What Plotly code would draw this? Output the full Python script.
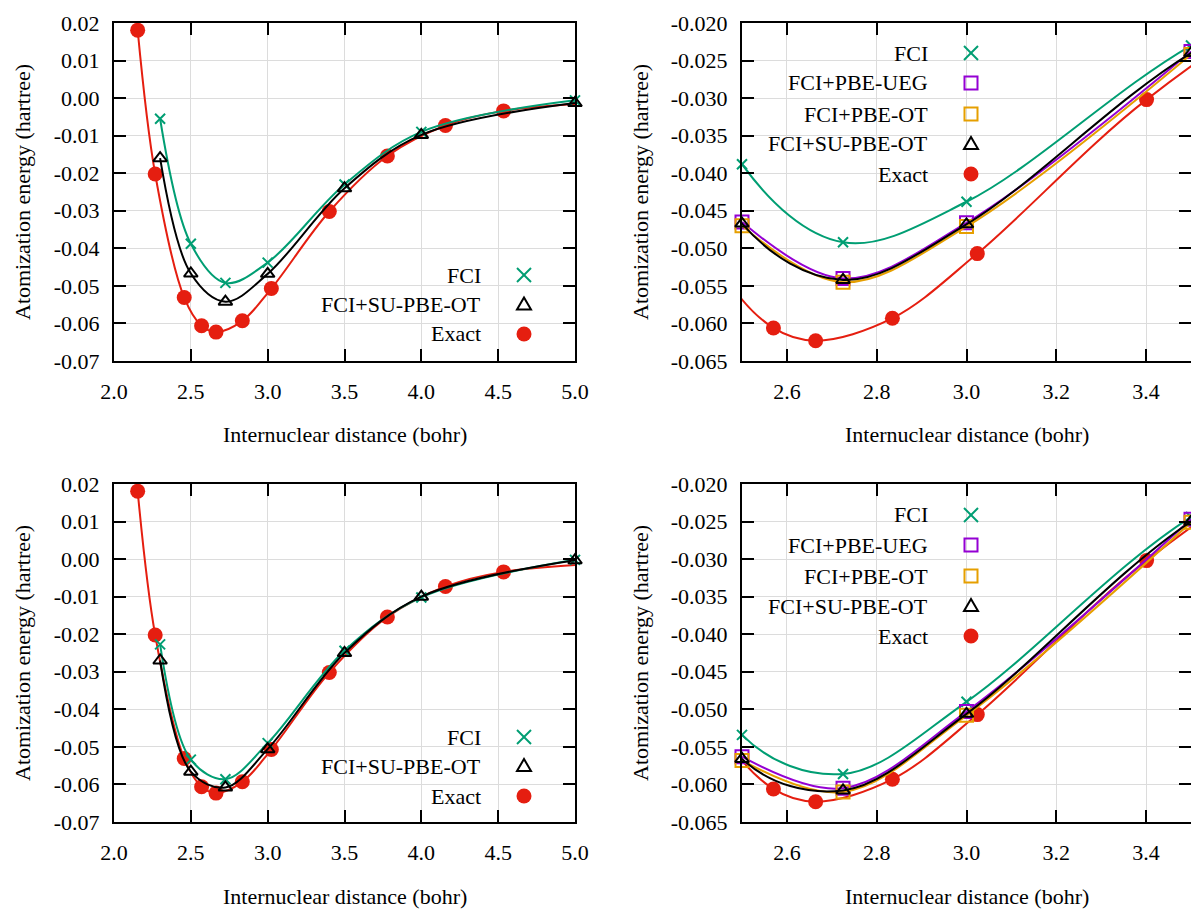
import plotly.graph_objects as go

# ---------------- data ----------------
exact_x = [2.154, 2.268, 2.457, 2.570, 2.664, 2.835, 3.024, 3.401, 3.779, 4.157, 4.535, 5.291]
exact_y = [0.0181, -0.0202, -0.0531, -0.0606, -0.0623, -0.0593, -0.0507, -0.0302, -0.0154, -0.0073, -0.0034, -0.0009]

calc_x = [2.3, 2.5, 2.725, 3.0, 3.5, 4.0, 5.0]
fci_top = [-0.0055, -0.0388, -0.0492, -0.0438, -0.0230, -0.0090, -0.0006]
su_top = [-0.0160, -0.0467, -0.0542, -0.0468, -0.0240, -0.0098, -0.0013]
fci_bot = [-0.0227, -0.0534, -0.0586, -0.0490, -0.0244, -0.0102, -0.0002]
su_bot = [-0.0270, -0.0566, -0.0608, -0.0506, -0.0250, -0.0100, -0.0003]

pbe_x = [2.5, 2.725, 3.0, 3.5]
ueg_top = [-0.0465, -0.0540, -0.0466, -0.0238]
ot_top = [-0.0470, -0.0545, -0.0471, -0.0242]
ueg_bot = [-0.0563, -0.0605, -0.0503, -0.0247]
ot_bot = [-0.0568, -0.0610, -0.0508, -0.0251]

left_xticks = [2.0, 2.5, 3.0, 3.5, 4.0, 4.5, 5.0]
left_xlabels = ["2.0", "2.5", "3.0", "3.5", "4.0", "4.5", "5.0"]
left_yticks = [0.02, 0.01, 0.0, -0.01, -0.02, -0.03, -0.04, -0.05, -0.06, -0.07]
left_ylabels = ["0.02", "0.01", "0.00", "-0.01", "-0.02", "-0.03", "-0.04", "-0.05", "-0.06", "-0.07"]
right_xticks = [2.6, 2.8, 3.0, 3.2, 3.4]
right_xlabels = ["2.6", "2.8", "3.0", "3.2", "3.4"]
right_yticks = [-0.020, -0.025, -0.030, -0.035, -0.040, -0.045, -0.050, -0.055, -0.060, -0.065]
right_ylabels = ["-0.020", "-0.025", "-0.030", "-0.035", "-0.040", "-0.045", "-0.050", "-0.055", "-0.060", "-0.065"]

names = {"fci": "FCI", "ueg": "FCI+PBE-UEG", "ot": "FCI+PBE-OT", "su": "FCI+SU-PBE-OT", "exact": "Exact"}
colors = {"fci": "#009e73", "ueg": "#9400d3", "ot": "#e69f00", "su": "#000000", "exact": "#e51e10"}

# page has an 8px body margin: figure is drawn at (8, 8) and runs to the window edge
OFF = 8
W, H = 1199 - OFF, 909 - OFF
FONT = "Liberation Serif"

# panel pixel boxes in page coordinates (x0, x1, y0, y1)
panels = {
    1: (114, 575, 23, 361),
    2: (742, 1191, 23, 361),
    3: (114, 575, 484, 822),
    4: (742, 1191, 484, 822),
}
xranges = {1: [2.0, 5.0], 2: [2.5, 3.5], 3: [2.0, 5.0], 4: [2.5, 3.5]}
yranges = {1: [-0.07, 0.02], 2: [-0.065, -0.020], 3: [-0.07, 0.02], 4: [-0.065, -0.020]}


def px(x):
    return (x - OFF) / W


def py(y):
    return 1 - (y - OFF) / H


fig = go.Figure()

marker_style = {
    "fci": dict(symbol="x-thin-open", size=10, line=dict(width=2, color=colors["fci"]), color=colors["fci"]),
    "ueg": dict(symbol="square-open", size=13, line=dict(width=2, color=colors["ueg"]), color=colors["ueg"]),
    "ot": dict(symbol="square-open", size=13, line=dict(width=2, color=colors["ot"]), color=colors["ot"]),
    "su": dict(symbol="triangle-up-open", size=12, line=dict(width=2, color=colors["su"]), color=colors["su"]),
    "exact": dict(symbol="circle", size=15, color=colors["exact"], line=dict(width=0)),
}


def add_series(key, xs, ys, p):
    xa = "x" if p == 1 else f"x{p}"
    ya = "y" if p == 1 else f"y{p}"
    lo, hi = xranges[p]
    fig.add_trace(go.Scatter(x=xs, y=ys, mode="lines", xaxis=xa, yaxis=ya,
                             line=dict(color=colors[key], width=2, shape="spline", smoothing=1.0),
                             showlegend=False, hoverinfo="skip"))
    inx = [x for x in xs if lo - 1e-9 <= x <= hi + 1e-9]
    iny = [y for x, y in zip(xs, ys) if lo - 1e-9 <= x <= hi + 1e-9]
    fig.add_trace(go.Scatter(x=inx, y=iny, mode="markers", xaxis=xa, yaxis=ya,
                             marker=marker_style[key], cliponaxis=False,
                             showlegend=False, name=names[key]))


for p in (1, 2, 3, 4):
    top = p in (1, 2)
    add_series("exact", exact_x, exact_y, p)
    add_series("fci", calc_x, fci_top if top else fci_bot, p)
    if p in (2, 4):
        add_series("ueg", pbe_x, ueg_top if top else ueg_bot, p)
        add_series("ot", pbe_x, ot_top if top else ot_bot, p)
    add_series("su", calc_x, su_top if top else su_bot, p)

layout = dict(width=W, height=H, margin=dict(l=0, r=0, t=0, b=0, autoexpand=False),
              template="none",
              paper_bgcolor="white", plot_bgcolor="white",
              font=dict(family=FONT, size=22, color="black"), showlegend=False)

for p, (x0, x1, y0, y1) in panels.items():
    left = p in (1, 3)
    sx = "" if p == 1 else str(p)
    layout["xaxis" + sx] = dict(
        domain=[px(x0), px(x1)], range=xranges[p], anchor="y" + sx, automargin=False,
        tickvals=left_xticks if left else right_xticks,
        ticktext=left_xlabels if left else right_xlabels,
        ticks="inside", ticklen=12, tickwidth=2, tickcolor="black",
        showline=True, linewidth=2, linecolor="black", mirror="ticks",
        showgrid=True, gridcolor="#dcdcdc", gridwidth=1, zeroline=False,
        ticklabelstandoff=10, tickfont=dict(family=FONT, size=22, color="black"))
    layout["yaxis" + sx] = dict(
        domain=[py(y1), py(y0)], range=yranges[p], anchor="x" + sx, automargin=False,
        tickvals=left_yticks if left else right_yticks,
        ticktext=left_ylabels if left else right_ylabels,
        ticks="inside", ticklen=12, tickwidth=2, tickcolor="black",
        showline=True, linewidth=2, linecolor="black", mirror="ticks",
        showgrid=True, gridcolor="#dcdcdc", gridwidth=1, zeroline=False,
        ticklabelstandoff=8, tickfont=dict(family=FONT, size=22, color="black"))

fig.update_layout(**layout)

annotations = []
shapes = []

# axis titles
for p, (x0, x1, y0, y1) in panels.items():
    annotations.append(dict(text="Internuclear distance (bohr)", xref="paper", yref="paper",
                            x=px((x0 + x1) / 2), y=py(y1 + 74), showarrow=False,
                            xanchor="center", yanchor="middle",
                            font=dict(family=FONT, size=22, color="black")))
    tx = 22 if p in (1, 3) else 640
    annotations.append(dict(text="Atomization energy (hartree)", xref="paper", yref="paper",
                            x=px(tx), y=py((y0 + y1) / 2), showarrow=False, textangle=-90,
                            xanchor="center", yanchor="middle",
                            font=dict(family=FONT, size=22, color="black")))

# legend boxes (white, above grid, below data)
boxes = {1: (337, 575, 258, 361), 2: (753, 1010, 23, 190), 3: (337, 575, 719, 822), 4: (753, 1010, 484, 651)}
for p, (bx0, bx1, by0, by1) in boxes.items():
    shapes.append(dict(type="rect", xref="paper", yref="paper", x0=px(bx0), x1=px(bx1),
                       y0=py(by1), y1=py(by0), fillcolor="white", line=dict(width=0), layer="between"))

legend_rows = {
    1: (483, 524, [("fci", 275), ("su", 304.5), ("exact", 334)]),
    3: (483, 524, [("fci", 737), ("su", 766), ("exact", 796)]),
    2: (930, 971, [("fci", 53), ("ueg", 83), ("ot", 114), ("su", 144), ("exact", 174)]),
    4: (930, 971, [("fci", 515), ("ueg", 545), ("ot", 576), ("su", 606), ("exact", 636)]),
}


def sym_shapes(key, cx, cy):
    c = colors[key]
    out = []
    if key == "fci":
        r = 7
        out.append(dict(type="line", xref="paper", yref="paper", x0=px(cx - r), y0=py(cy - r),
                        x1=px(cx + r), y1=py(cy + r), line=dict(color=c, width=2)))
        out.append(dict(type="line", xref="paper", yref="paper", x0=px(cx - r), y0=py(cy + r),
                        x1=px(cx + r), y1=py(cy - r), line=dict(color=c, width=2)))
    elif key in ("ueg", "ot"):
        r = 6.5
        out.append(dict(type="rect", xref="paper", yref="paper", x0=px(cx - r), y0=py(cy + r),
                        x1=px(cx + r), y1=py(cy - r), line=dict(color=c, width=2)))
    elif key == "su":
        path = (f"M {px(cx - 7)},{py(cy + 5)} L {px(cx + 7)},{py(cy + 5)} "
                f"L {px(cx)},{py(cy - 7)} Z")
        out.append(dict(type="path", xref="paper", yref="paper", path=path, line=dict(color=c, width=2)))
    else:
        r = 7.5
        out.append(dict(type="circle", xref="paper", yref="paper", x0=px(cx - r), y0=py(cy + r),
                        x1=px(cx + r), y1=py(cy - r), fillcolor=c, line=dict(width=0)))
    return out


for p, (tx, sx_, rows) in legend_rows.items():
    for key, ry in rows:
        annotations.append(dict(text=names[key], xref="paper", yref="paper", x=px(tx), y=py(ry),
                                showarrow=False, xanchor="right", yanchor="middle",
                                font=dict(family=FONT, size=22, color="black")))
        shapes.extend(sym_shapes(key, sx_, ry))

fig.update_layout(annotations=annotations, shapes=shapes)
fig.write_html("out.html")
